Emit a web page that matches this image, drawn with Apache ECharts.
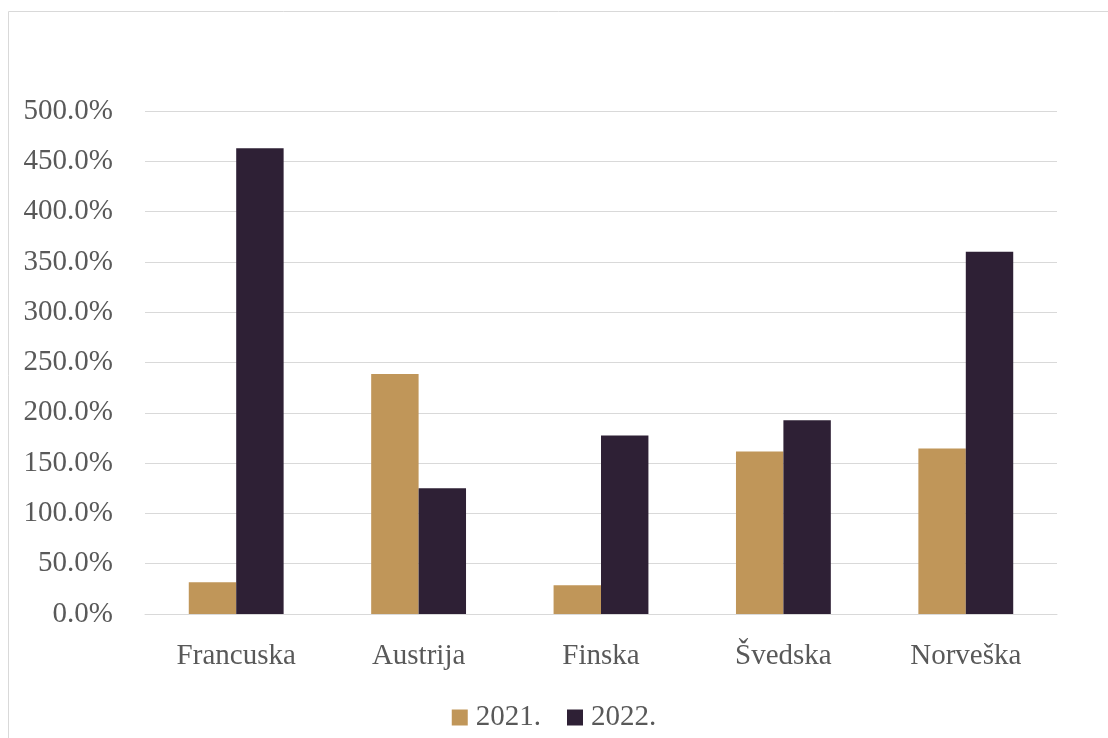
<!DOCTYPE html>
<html>
<head>
<meta charset="utf-8">
<script src="https://cdn.jsdelivr.net/npm/echarts@6/dist/echarts.min.js"></script>
<style>
  html, body { margin: 0; padding: 0; background: #fff; }
  #chart { width: 1108px; height: 738px; }
</style>
</head>
<body>
<div id="chart"></div>
<script>
'use strict'

const countries = ['Francuska', 'Austrija', 'Finska', 'Švedska', 'Norveška']
const years = ['2021.', '2022.']
const values2021 = [31.5, 238.5, 28.5, 161.5, 164.5]
const values2022 = [463, 125, 177.5, 192.5, 360]
const yTicks = [0, 50, 100, 150, 200, 250, 300, 350, 400, 450, 500]

const FONT = '"Liberation Serif", "Times New Roman", serif'
const TEXT = '#595959'

const chart = echarts.init(document.getElementById('chart'))

const option = {
  animation: false,
  graphic: [
    {
      type: 'rect',
      shape: { x: 8.5, y: 11.5, width: 1120, height: 760 },
      style: { fill: 'none', stroke: '#d9d9d9', lineWidth: 1 },
      silent: true
    }
  ],
  legend: {
    data: years,
    bottom: 1,
    left: 'center',
    icon: 'rect',
    itemWidth: 16,
    itemHeight: 16,
    itemGap: 26,
    textStyle: { fontFamily: FONT, fontSize: 29, color: TEXT, padding: [0, 0, 0, 3] }
  },
  grid: { left: 145, right: 51, top: 111, bottom: 124 },
  xAxis: {
    type: 'category',
    data: countries,
    axisTick: { show: false },
    axisLine: { lineStyle: { color: '#d9d9d9', width: 1 } },
    axisLabel: { fontFamily: FONT, fontSize: 29, color: TEXT, margin: 28 }
  },
  yAxis: {
    type: 'value',
    min: yTicks[0],
    max: yTicks[yTicks.length - 1],
    interval: 50,
    axisLine: { show: false },
    axisTick: { show: false },
    splitLine: { lineStyle: { color: '#d9d9d9', width: 1 } },
    axisLabel: {
      fontFamily: FONT, fontSize: 29, color: TEXT, margin: 32,
      formatter: v => v.toFixed(1) + '%'
    }
  },
  series: [
    {
      name: years[0],
      type: 'bar',
      data: values2021,
      barWidth: '26%',
      barGap: '0%',
      itemStyle: { color: '#c09659' }
    },
    {
      name: years[1],
      type: 'bar',
      data: values2022,
      barWidth: '26%',
      barGap: '0%',
      itemStyle: { color: '#2e2035' }
    }
  ]
}

chart.setOption(option)
</script>
</body>
</html>
